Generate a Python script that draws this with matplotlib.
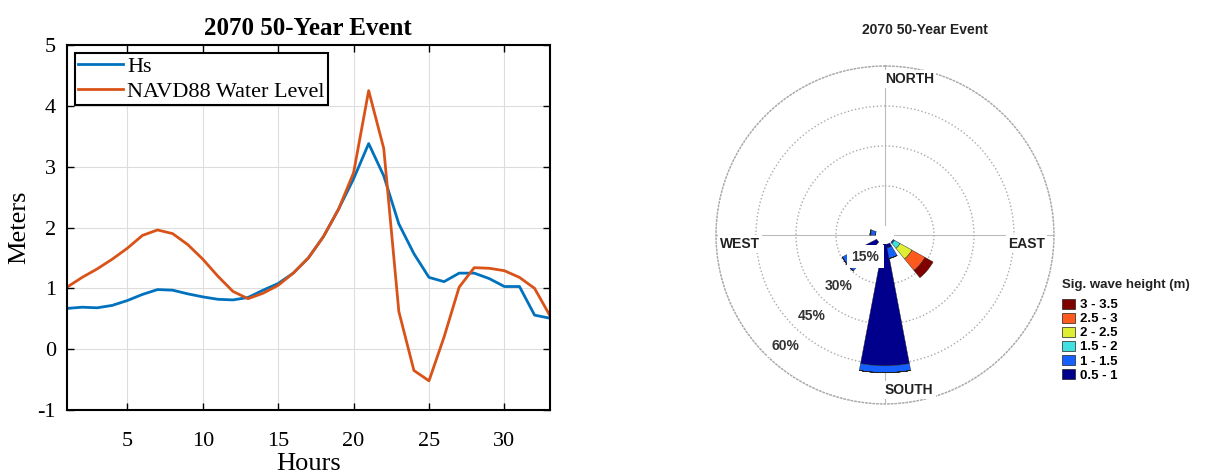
import matplotlib
matplotlib.use("Agg")
import matplotlib.pyplot as plt
import numpy as np
from matplotlib.patches import Patch

plt.rcParams['axes.unicode_minus'] = False

# ---- data ----
hours = list(range(1, 34))
hs = [0.67, 0.69, 0.68, 0.72, 0.80, 0.90, 0.98, 0.97, 0.91, 0.86, 0.82,
      0.81, 0.85, 0.97, 1.08, 1.25, 1.50, 1.85, 2.30, 2.80, 3.38, 2.85,
      2.06, 1.57, 1.18, 1.11, 1.25, 1.25, 1.16, 1.03, 1.03, 0.56, 0.51]
wl = [1.02, 1.18, 1.32, 1.48, 1.66, 1.87, 1.96, 1.90, 1.72, 1.48, 1.20,
      0.95, 0.83, 0.92, 1.05, 1.25, 1.50, 1.85, 2.30, 2.90, 4.25, 3.30,
      0.62, -0.35, -0.52, 0.20, 1.02, 1.34, 1.33, 1.29, 1.18, 1.00, 0.56]

# wind rose: direction (deg from north, clockwise) and % per height class
rose_dirs = [180, 130, 160, 232, 280]
pct_05_1 = [45.7, 0.3, 1.5, 12.0, 0.3]
pct_1_15 = [2.6, 0.4, 4.0, 2.6, 1.6]
pct_15_2 = [0.0, 2.4, 0.0, 0.0, 0.3]
pct_2_25 = [0.0, 5.1, 0.0, 0.0, 0.0]
pct_25_3 = [0.0, 5.6, 0.0, 0.0, 0.0]
pct_3_35 = [0.0, 3.5, 0.0, 0.0, 0.0]
class_labels = ['0.5 - 1', '1 - 1.5', '1.5 - 2', '2 - 2.5', '2.5 - 3', '3 - 3.5']
class_colors = ['#00008C', '#1560FF', '#40E0E0', '#DDEE33', '#FF5A1E', '#800000']
ring_pcts = [15, 30, 45, 60]

fig = plt.figure(figsize=(12.08, 4.74), dpi=100)

# ---- left: time series ----
serif = ['Liberation Serif', 'DejaVu Serif']
ax = fig.add_axes([0.0555, 0.135, 0.3995, 0.77])
ax.plot(hours, hs, color='#0072BD', lw=2, label='Hs')
ax.plot(hours, wl, color='#D95319', lw=2, label='NAVD88 Water Level')
ax.set_xlim(1, 33)
ax.set_ylim(-1, 5)
ax.set_xticks([5, 10, 15, 20, 25, 30])
ax.set_yticks(range(-1, 6))
ax.grid(True, color='#dddddd', lw=0.8)
ax.tick_params(direction='in', top=True, right=True, length=5, width=1,
               labelsize=16)
ax.tick_params(axis='x', pad=16)
ax.tick_params(axis='y', pad=8)
for lab in ax.get_xticklabels() + ax.get_yticklabels():
    lab.set_family(serif)
for s in ax.spines.values():
    s.set_linewidth(1.5)
ax.set_title('2070 50-Year Event', family=serif, fontweight='bold',
             fontsize=18, pad=7)
ax.set_xlabel('Hours', family=serif, fontsize=19, labelpad=1)
ax.set_ylabel('Meters', family=serif, fontsize=19, labelpad=5)
leg = ax.legend(loc='upper left', prop={'family': serif, 'size': 16},
                fancybox=False, edgecolor='black', framealpha=1,
                borderaxespad=0.35, borderpad=0.15, handlelength=2.0,
                handletextpad=0.2, labelspacing=0.2)
leg.get_frame().set_linewidth(1.5)

# ---- right: wind rose ----
pax = fig.add_axes([0.5927, 0.1477, 0.2798, 0.7131], projection='polar')
pax.set_theta_zero_location('N')
pax.set_theta_direction(-1)
pax.set_rorigin(-3.4)
pax.set_ylim(0, 60)

theta = np.deg2rad(rose_dirs)
width = np.deg2rad(21.5)
bottom = np.zeros(len(rose_dirs))
for vals, col in zip([pct_05_1, pct_1_15, pct_15_2, pct_2_25, pct_25_3, pct_3_35],
                     class_colors):
    vals = np.array(vals)
    pax.bar(theta, vals, width=width, bottom=bottom, color=col,
            edgecolor='#202020', linewidth=0.3, zorder=2)
    bottom += vals

pax.set_rticks(ring_pcts)
pax.set_yticklabels([])
pax.set_thetagrids([0, 90, 180, 270], labels=['', '', '', ''])
pax.yaxis.grid(True, color='#aaaaaa', ls=':', lw=1.0)
pax.xaxis.grid(True, color='#bbbbbb', ls='-', lw=0.8)
pax.spines['polar'].set_linestyle(':')
pax.spines['polar'].set_color('#aaaaaa')
pax.spines['polar'].set_linewidth(1.0)
pax.spines['inner'].set_color('none')
pax.spines['inner'].set_linewidth(0)

sans = ['Liberation Sans', 'DejaVu Sans']
for p in ring_pcts:
    pax.text(np.deg2rad(222), p - 7.5, f'{p}%', ha='center', va='center',
             family=sans, fontweight='bold', fontsize=10, color='#333333',
             zorder=5, bbox=dict(facecolor='white', edgecolor='none', pad=3))

fig.text(925 / 1208, 1 - 30 / 474, '2070 50-Year Event', ha='center',
         va='center', family=sans, fontweight='bold', fontsize=10,
         color='#222222')
for txt, px, py in [('NORTH', 885, 79), ('WEST', 720, 244),
                    ('EAST', 1008, 244), ('SOUTH', 885, 390)]:
    fig.text(px / 1208, 1 - py / 474, txt, ha='left', va='center',
             family=sans, fontweight='bold', fontsize=10, color='#222222',
             bbox=dict(facecolor='white', edgecolor='none', pad=1.5))

fig.text(1062 / 1208, 1 - 285 / 474, 'Sig. wave height (m)', ha='left',
         va='center', family=sans, fontweight='bold', fontsize=9.5,
         color='#222222')
handles = [Patch(facecolor=c, edgecolor='#202020', linewidth=0.5)
           for c in class_colors][::-1]
fig.legend(handles, class_labels[::-1], loc='upper left',
           bbox_to_anchor=(1062 / 1208, 1 - 299 / 474), frameon=False,
           prop={'family': sans, 'weight': 'bold', 'size': 9.5},
           handlelength=1.0, handleheight=0.75, handletextpad=0.4,
           labelspacing=0.12, borderaxespad=0, borderpad=0.0)

fig.savefig('out.png', dpi=100, facecolor='white')
